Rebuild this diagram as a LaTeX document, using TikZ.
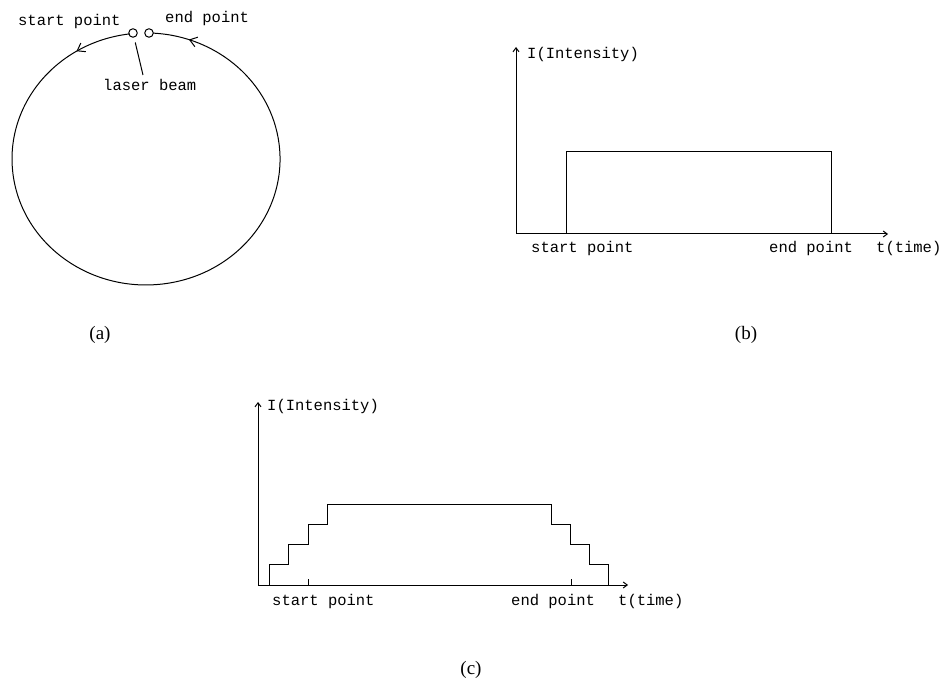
\documentclass[tikz,border=0pt]{standalone}
\usepackage{fontspec}
\setmainfont{Liberation Serif}
\setmonofont{Liberation Mono}
\usepackage{tikz}
\usetikzlibrary{arrows.meta, positioning, decorations.markings}
\tikzset{
  axis/.style={-{Straight Barb[length=4pt,width=6pt]}, line width=1pt},
  trace/.style={line width=1pt},
  spot/.style={circle, draw, line width=1pt, inner sep=0pt, minimum size=8.5pt},
  lbl/.style={font=\ttfamily\fontsize{15.5}{18}\selectfont, inner sep=0pt, anchor=base west},
  capt/.style={font=\fontsize{19}{22}\selectfont, inner sep=0pt},
  barb/.style={decoration={markings,
      mark=at position 0.071 with {\arrow{Straight Barb[length=7pt,width=10pt]}},
      mark=at position 0.954 with {\arrow{Straight Barb[length=7pt,width=10pt]}}},
      postaction={decorate}},
}

\begin{document}
\begin{tikzpicture}[x=1pt, y=-1pt]
  \useasboundingbox (0,0) rectangle (943,679);

  % (a) the beam running round the ring
  \draw[trace, barb] (129.7,33.9)
    arc[start angle=-97, end angle=-447, x radius=134, y radius=126];
  \node[spot] (sL) at (133,33) {};
  \node[spot] (sR) at (149,33) {};
  \node[lbl] (startA) at (18,26) {start point};
  \node[lbl] (endA) at (165,23) {end point};
  \node[lbl] (beam) at (103,91) {laser beam};
  \coordinate (beamtip) at (143,75);
  \draw[trace, shorten <=5pt] (sL) -- (beamtip);
  \node[capt] (capA) at (100,335) {(a)};

  % (b) constant intensity
  \coordinate (oB) at (516,234);
  \coordinate (yB) at (516,47);
  \coordinate (xB) at (888,234);
  \draw[axis] (oB) -- (yB);
  \draw[axis] (oB) -- (xB);
  \draw[trace] (566,234) -- (566,152) -- (831,152) -- (831,234);
  \node[lbl] (iB) at (527,59) {I(Intensity)};
  \node[lbl] (startB) at (531,253) {start point};
  \node[lbl] (endB) at (769,253) {end point};
  \node[lbl] (tB) at (876,253) {t(time)};
  \node[capt] (capB) at (746,335) {(b)};

  % (c) stepped ramp up and down
  \coordinate (oC) at (258,585);
  \coordinate (yC) at (258,402);
  \coordinate (xC) at (628,585);
  \draw[axis] (oC) -- (yC);
  \draw[axis] (oC) -- (xC);
  \draw[trace] (269,585) -- (269,564) -- (288,564) -- (288,544) -- (308,544)
    -- (308,524) -- (327,524) -- (327,504) -- (551,504) -- (551,524)
    -- (570,524) -- (570,544) -- (589,544) -- (589,564) -- (608,564) -- (608,585);
  \foreach \t in {308,571}
    \draw[trace] (\t,585) -- (\t,579);
  \node[lbl] (iC) at (267,410) {I(Intensity)};
  \node[lbl] (startC) at (272,605) {start point};
  \node[lbl] (endC) at (511,605) {end point};
  \node[lbl] (tC) at (618,605) {t(time)};
  \node[capt] (capC) at (471,670) {(c)};
\end{tikzpicture}
\end{document}
